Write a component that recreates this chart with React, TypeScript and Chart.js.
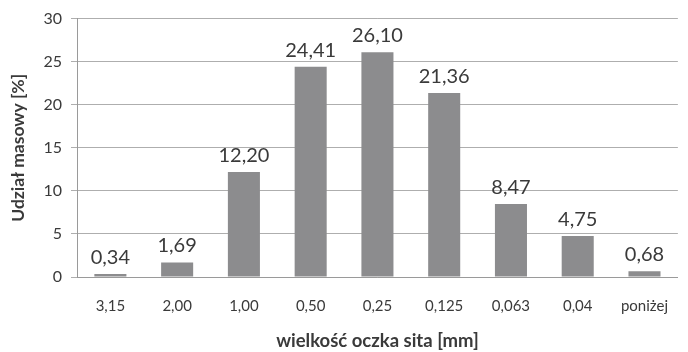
import React, { useEffect, useRef } from "react";
import { Chart, registerables } from "chart.js";

Chart.register(...registerables);

const categories = ["3,15", "2,00", "1,00", "0,50", "0,25", "0,125", "0,063", "0,04", "poniżej"];
const values = [0.34, 1.69, 12.2, 24.41, 26.1, 21.36, 8.47, 4.75, 0.68];
const yTicks = [0, 5, 10, 15, 20, 25, 30];
const yTitle = "Udział masowy [%]";
const xTitle = "wielkość oczka sita [mm]";

const FONT = "Lato, 'Open Sans', sans-serif";
const TEXT = "#3a3a3a";

const valueLabels = {
  id: "valueLabels",
  afterDatasetsDraw(chart: any) {
    const ctx = chart.ctx;
    const meta = chart.getDatasetMeta(0);
    ctx.save();
    ctx.font = `20px ${FONT}`;
    ctx.fillStyle = TEXT;
    ctx.textAlign = "center";
    ctx.textBaseline = "alphabetic";
    meta.data.forEach((bar: any, i: number) => {
      const v = chart.data.datasets[0].data[i] as number;
      ctx.fillText(v.toFixed(2).replace(".", ","), bar.x, bar.y - 10);
    });
    ctx.restore();
  },
};

export default function App() {
  const ref = useRef<HTMLCanvasElement>(null);
  useEffect(() => {
    document.body.style.margin = "0";
    const chart = new Chart(ref.current!, {
      type: "bar",
      data: {
        labels: categories,
        datasets: [
          {
            data: values,
            backgroundColor: "#8c8c8e",
            barPercentage: 0.48,
            categoryPercentage: 1,
          },
        ],
      },
      plugins: [valueLabels],
      options: {
        animation: false,
        responsive: false,
        layout: { padding: { top: 15, right: -3, left: 0, bottom: 0 } },
        plugins: { legend: { display: false }, tooltip: { enabled: false } },
        scales: {
          x: {
            grid: { display: false, drawTicks: false },
            border: { display: true, color: "#9a9a9a", width: 1 },
            ticks: { color: TEXT, font: { family: FONT, size: 15 }, padding: 20, maxRotation: 0 },
            title: {
              display: true,
              text: xTitle,
              color: TEXT,
              font: { family: FONT, size: 18.5, weight: "bold" },
              padding: { top: 3, bottom: 0 },
            },
            afterFit(scale: any) {
              scale.height = 75;
            },
          },
          y: {
            min: 0,
            max: 30,
            afterBuildTicks(scale: any) {
              scale.ticks = yTicks.map((v) => ({ value: v }));
            },
            grid: { color: "#aeaeae", tickLength: 6, drawTicks: true, tickColor: "#aeaeae" },
            border: { display: true, color: "#9a9a9a", width: 1 },
            ticks: { color: TEXT, font: { family: FONT, size: 16 }, padding: 9 },
            title: {
              display: true,
              text: yTitle,
              color: TEXT,
              font: { family: FONT, size: 17.5, weight: "bold" },
              padding: { top: 8, bottom: 0 },
            },
            afterFit(scale: any) {
              scale.width = 77;
            },
          },
        },
      },
    });
    return () => chart.destroy();
  }, []);
  return <canvas ref={ref} width={688} height={352} style={{ display: "block" }} />;
}
